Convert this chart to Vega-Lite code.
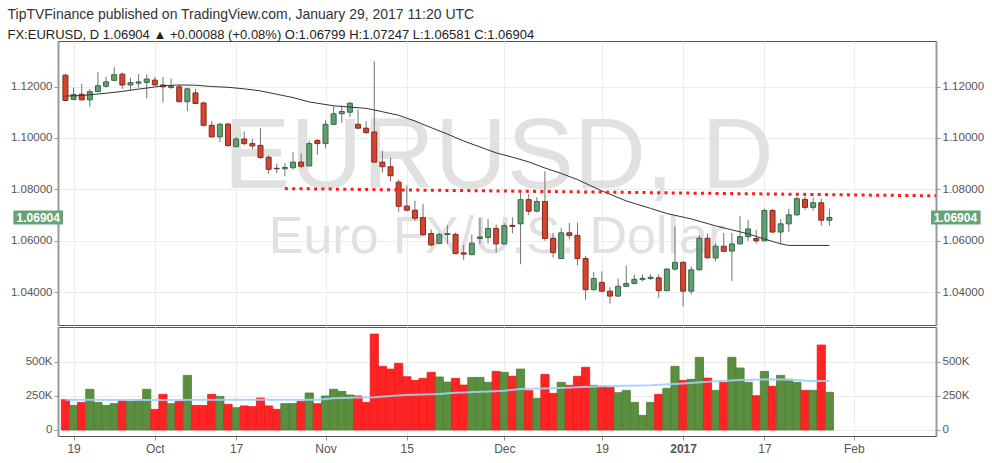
{
  "$schema": "https://vega.github.io/schema/vega-lite/v6.json",
  "background": "white",
  "padding": {"left": 7, "top": 7, "right": 7, "bottom": 4},
  "title": {
    "text": "TipTVFinance published on TradingView.com, January 29, 2017 11:20 UTC",
    "subtitle": "FX:EURUSD, D  1.06904 ▲ +0.00088 (+0.08%)  O:1.06799  H:1.07247  L:1.06581  C:1.06904",
    "anchor": "start",
    "frame": "bounds",
    "font": "Liberation Sans",
    "fontSize": 14,
    "fontWeight": "normal",
    "color": "#333333",
    "subtitleFont": "Liberation Sans",
    "subtitleFontSize": 13,
    "subtitleColor": "#222222",
    "subtitlePadding": 7,
    "offset": -1
  },
  "config": {
    "font": "Liberation Sans",
    "view": {"stroke": "#555555", "strokeWidth": 1},
    "axis": {
      "labelFont": "Liberation Sans",
      "labelFontSize": 11.5,
      "labelColor": "#555555",
      "gridColor": "#ececec",
      "tickColor": "#999999",
      "domainColor": "#999999",
      "domainWidth": 2,
      "tickSize": 4,
      "labelPadding": 2,
      "title": null
    }
  },
  "datasets": {
    "bars": [
      {"i":0,"d":"2016-09-16","o":1.1244,"h":1.1250,"l":1.1144,"c":1.1146,"v":222000},
      {"i":1,"d":"2016-09-19","o":1.1150,"h":1.1196,"l":1.1146,"c":1.1169,"v":180000},
      {"i":2,"d":"2016-09-20","o":1.1170,"h":1.1211,"l":1.1146,"c":1.1148,"v":202000},
      {"i":3,"d":"2016-09-21","o":1.1148,"h":1.1191,"l":1.1122,"c":1.1180,"v":298000},
      {"i":4,"d":"2016-09-22","o":1.1180,"h":1.1256,"l":1.1178,"c":1.1203,"v":202000},
      {"i":5,"d":"2016-09-23","o":1.1201,"h":1.1238,"l":1.1196,"c":1.1218,"v":180000},
      {"i":6,"d":"2016-09-26","o":1.1224,"h":1.1275,"l":1.1221,"c":1.1246,"v":193000},
      {"i":7,"d":"2016-09-27","o":1.1248,"h":1.1254,"l":1.1191,"c":1.1206,"v":217000},
      {"i":8,"d":"2016-09-28","o":1.1206,"h":1.1234,"l":1.1184,"c":1.1215,"v":210000},
      {"i":9,"d":"2016-09-29","o":1.1213,"h":1.1248,"l":1.1196,"c":1.1218,"v":222000},
      {"i":10,"d":"2016-09-30","o":1.1216,"h":1.1248,"l":1.1154,"c":1.1229,"v":298000},
      {"i":11,"d":"2016-10-03","o":1.1225,"h":1.1238,"l":1.1203,"c":1.1206,"v":151000},
      {"i":12,"d":"2016-10-04","o":1.1206,"h":1.1238,"l":1.1138,"c":1.1199,"v":261000},
      {"i":13,"d":"2016-10-05","o":1.1196,"h":1.1231,"l":1.1191,"c":1.1201,"v":193000},
      {"i":14,"d":"2016-10-06","o":1.1199,"h":1.1206,"l":1.1138,"c":1.1141,"v":210000},
      {"i":15,"d":"2016-10-07","o":1.1141,"h":1.1196,"l":1.1104,"c":1.1191,"v":400000},
      {"i":16,"d":"2016-10-10","o":1.1175,"h":1.1191,"l":1.1131,"c":1.1134,"v":180000},
      {"i":17,"d":"2016-10-11","o":1.1136,"h":1.1141,"l":1.1046,"c":1.1049,"v":180000},
      {"i":18,"d":"2016-10-12","o":1.1049,"h":1.1065,"l":1.1003,"c":1.1004,"v":261000},
      {"i":19,"d":"2016-10-13","o":1.1004,"h":1.1059,"l":1.0984,"c":1.1053,"v":246000},
      {"i":20,"d":"2016-10-14","o":1.1054,"h":1.1059,"l":1.0968,"c":1.0970,"v":188000},
      {"i":21,"d":"2016-10-17","o":1.0966,"h":1.1004,"l":1.0964,"c":1.0996,"v":163000},
      {"i":22,"d":"2016-10-18","o":1.0996,"h":1.1025,"l":1.0971,"c":1.0978,"v":176000},
      {"i":23,"d":"2016-10-19","o":1.0978,"h":1.0996,"l":1.0956,"c":1.0969,"v":171000},
      {"i":24,"d":"2016-10-20","o":1.0971,"h":1.1038,"l":1.0919,"c":1.0924,"v":234000},
      {"i":25,"d":"2016-10-21","o":1.0925,"h":1.0931,"l":1.0860,"c":1.0878,"v":176000},
      {"i":26,"d":"2016-10-24","o":1.0882,"h":1.0900,"l":1.0862,"c":1.0880,"v":151000},
      {"i":27,"d":"2016-10-25","o":1.0880,"h":1.0902,"l":1.0852,"c":1.0885,"v":193000},
      {"i":28,"d":"2016-10-26","o":1.0884,"h":1.0944,"l":1.0877,"c":1.0906,"v":193000},
      {"i":29,"d":"2016-10-27","o":1.0906,"h":1.0941,"l":1.0884,"c":1.0890,"v":210000},
      {"i":30,"d":"2016-10-28","o":1.0891,"h":1.0990,"l":1.0889,"c":1.0978,"v":271000},
      {"i":31,"d":"2016-10-31","o":1.0990,"h":1.0996,"l":1.0935,"c":1.0978,"v":193000},
      {"i":32,"d":"2016-11-01","o":1.0978,"h":1.1069,"l":1.0960,"c":1.1053,"v":249000},
      {"i":33,"d":"2016-11-02","o":1.1053,"h":1.1123,"l":1.1050,"c":1.1094,"v":298000},
      {"i":34,"d":"2016-11-03","o":1.1094,"h":1.1125,"l":1.1059,"c":1.1103,"v":283000},
      {"i":35,"d":"2016-11-04","o":1.1100,"h":1.1140,"l":1.1081,"c":1.1135,"v":256000},
      {"i":36,"d":"2016-11-07","o":1.1053,"h":1.1110,"l":1.1034,"c":1.1038,"v":249000},
      {"i":37,"d":"2016-11-08","o":1.1038,"h":1.1065,"l":1.1015,"c":1.1021,"v":202000},
      {"i":38,"d":"2016-11-09","o":1.1023,"h":1.1298,"l":1.0904,"c":1.0906,"v":702000},
      {"i":39,"d":"2016-11-10","o":1.0906,"h":1.0950,"l":1.0865,"c":1.0888,"v":466000},
      {"i":40,"d":"2016-11-11","o":1.0888,"h":1.0923,"l":1.0831,"c":1.0853,"v":446000},
      {"i":41,"d":"2016-11-14","o":1.0828,"h":1.0838,"l":1.0713,"c":1.0734,"v":488000},
      {"i":42,"d":"2016-11-15","o":1.0735,"h":1.0815,"l":1.0715,"c":1.0719,"v":390000},
      {"i":43,"d":"2016-11-16","o":1.0719,"h":1.0756,"l":1.0678,"c":1.0688,"v":363000},
      {"i":44,"d":"2016-11-17","o":1.0690,"h":1.0744,"l":1.0620,"c":1.0623,"v":378000},
      {"i":45,"d":"2016-11-18","o":1.0628,"h":1.0644,"l":1.0578,"c":1.0584,"v":422000},
      {"i":46,"d":"2016-11-21","o":1.0590,"h":1.0631,"l":1.0586,"c":1.0625,"v":388000},
      {"i":47,"d":"2016-11-22","o":1.0624,"h":1.0660,"l":1.0588,"c":1.0628,"v":351000},
      {"i":48,"d":"2016-11-23","o":1.0625,"h":1.0631,"l":1.0548,"c":1.0550,"v":378000},
      {"i":49,"d":"2016-11-24","o":1.0553,"h":1.0584,"l":1.0525,"c":1.0548,"v":329000},
      {"i":50,"d":"2016-11-25","o":1.0546,"h":1.0625,"l":1.0544,"c":1.0591,"v":385000},
      {"i":51,"d":"2016-11-28","o":1.0609,"h":1.0688,"l":1.0588,"c":1.0615,"v":385000},
      {"i":52,"d":"2016-11-29","o":1.0613,"h":1.0684,"l":1.0590,"c":1.0648,"v":349000},
      {"i":53,"d":"2016-11-30","o":1.0648,"h":1.0663,"l":1.0553,"c":1.0588,"v":429000},
      {"i":54,"d":"2016-12-01","o":1.0588,"h":1.0669,"l":1.0585,"c":1.0659,"v":422000},
      {"i":55,"d":"2016-12-02","o":1.0660,"h":1.0691,"l":1.0629,"c":1.0656,"v":393000},
      {"i":56,"d":"2016-12-05","o":1.0666,"h":1.0796,"l":1.0509,"c":1.0760,"v":446000},
      {"i":57,"d":"2016-12-06","o":1.0760,"h":1.0781,"l":1.0700,"c":1.0715,"v":288000},
      {"i":58,"d":"2016-12-07","o":1.0715,"h":1.0769,"l":1.0710,"c":1.0753,"v":232000},
      {"i":59,"d":"2016-12-08","o":1.0753,"h":1.0871,"l":1.0600,"c":1.0609,"v":407000},
      {"i":60,"d":"2016-12-09","o":1.0609,"h":1.0631,"l":1.0535,"c":1.0554,"v":268000},
      {"i":61,"d":"2016-12-12","o":1.0531,"h":1.0650,"l":1.0528,"c":1.0631,"v":349000},
      {"i":62,"d":"2016-12-13","o":1.0631,"h":1.0669,"l":1.0606,"c":1.0621,"v":327000},
      {"i":63,"d":"2016-12-14","o":1.0621,"h":1.0671,"l":1.0504,"c":1.0531,"v":393000},
      {"i":64,"d":"2016-12-15","o":1.0531,"h":1.0541,"l":1.0371,"c":1.0410,"v":459000},
      {"i":65,"d":"2016-12-16","o":1.0410,"h":1.0478,"l":1.0406,"c":1.0453,"v":327000},
      {"i":66,"d":"2016-12-19","o":1.0438,"h":1.0481,"l":1.0400,"c":1.0404,"v":320000},
      {"i":67,"d":"2016-12-20","o":1.0404,"h":1.0419,"l":1.0356,"c":1.0385,"v":312000},
      {"i":68,"d":"2016-12-21","o":1.0385,"h":1.0453,"l":1.0381,"c":1.0423,"v":273000},
      {"i":69,"d":"2016-12-22","o":1.0423,"h":1.0504,"l":1.0420,"c":1.0434,"v":290000},
      {"i":70,"d":"2016-12-23","o":1.0434,"h":1.0469,"l":1.0430,"c":1.0450,"v":202000},
      {"i":71,"d":"2016-12-26","o":1.0449,"h":1.0469,"l":1.0442,"c":1.0454,"v":107000},
      {"i":72,"d":"2016-12-27","o":1.0453,"h":1.0469,"l":1.0447,"c":1.0458,"v":202000},
      {"i":73,"d":"2016-12-28","o":1.0456,"h":1.0469,"l":1.0378,"c":1.0406,"v":261000},
      {"i":74,"d":"2016-12-29","o":1.0406,"h":1.0494,"l":1.0403,"c":1.0490,"v":305000},
      {"i":75,"d":"2016-12-30","o":1.0490,"h":1.0656,"l":1.0484,"c":1.0516,"v":466000},
      {"i":76,"d":"2017-01-03","o":1.0516,"h":1.0520,"l":1.0344,"c":1.0404,"v":363000},
      {"i":77,"d":"2017-01-04","o":1.0404,"h":1.0500,"l":1.0391,"c":1.0487,"v":371000},
      {"i":78,"d":"2017-01-05","o":1.0487,"h":1.0622,"l":1.0485,"c":1.0610,"v":532000},
      {"i":79,"d":"2017-01-06","o":1.0610,"h":1.0628,"l":1.0530,"c":1.0534,"v":380000},
      {"i":80,"d":"2017-01-09","o":1.0533,"h":1.0590,"l":1.0519,"c":1.0579,"v":290000},
      {"i":81,"d":"2017-01-10","o":1.0579,"h":1.0631,"l":1.0557,"c":1.0559,"v":349000},
      {"i":82,"d":"2017-01-11","o":1.0560,"h":1.0631,"l":1.0444,"c":1.0588,"v":532000},
      {"i":83,"d":"2017-01-12","o":1.0588,"h":1.0697,"l":1.0585,"c":1.0616,"v":454000},
      {"i":84,"d":"2017-01-13","o":1.0616,"h":1.0681,"l":1.0600,"c":1.0646,"v":349000},
      {"i":85,"d":"2017-01-16","o":1.0609,"h":1.0643,"l":1.0589,"c":1.0600,"v":251000},
      {"i":86,"d":"2017-01-17","o":1.0600,"h":1.0726,"l":1.0598,"c":1.0718,"v":429000},
      {"i":87,"d":"2017-01-18","o":1.0718,"h":1.0724,"l":1.0632,"c":1.0634,"v":320000},
      {"i":88,"d":"2017-01-19","o":1.0634,"h":1.0684,"l":1.0588,"c":1.0666,"v":400000},
      {"i":89,"d":"2017-01-20","o":1.0666,"h":1.0724,"l":1.0634,"c":1.0701,"v":371000},
      {"i":90,"d":"2017-01-23","o":1.0701,"h":1.0772,"l":1.0698,"c":1.0764,"v":349000},
      {"i":91,"d":"2017-01-24","o":1.0761,"h":1.0772,"l":1.0721,"c":1.0730,"v":290000},
      {"i":92,"d":"2017-01-25","o":1.0730,"h":1.0768,"l":1.0717,"c":1.0748,"v":290000},
      {"i":93,"d":"2017-01-26","o":1.0748,"h":1.0764,"l":1.0659,"c":1.0680,"v":622000},
      {"i":94,"d":"2017-01-27","o":1.06799,"h":1.07247,"l":1.06581,"c":1.06904,"v":276000}
    ],
    "ma": [
      {"i":0,"p":1.1163},{"i":2,"p":1.1165},{"i":3,"p":1.1168},{"i":5,"p":1.1174},{"i":7,"p":1.1181},
      {"i":9,"p":1.1190},{"i":11,"p":1.1198},{"i":12,"p":1.1203},{"i":14,"p":1.1206},{"i":16,"p":1.1205},
      {"i":18,"p":1.1200},{"i":20,"p":1.1197},{"i":22,"p":1.1191},{"i":24,"p":1.1183},{"i":26,"p":1.1170},
      {"i":28,"p":1.1157},{"i":30,"p":1.1140},{"i":33,"p":1.1125},{"i":35,"p":1.1120},{"i":37,"p":1.1115},
      {"i":39,"p":1.1102},{"i":41,"p":1.1088},{"i":43,"p":1.1066},{"i":45,"p":1.1040},{"i":47,"p":1.1015},
      {"i":49,"p":1.0988},{"i":51,"p":1.0965},{"i":53,"p":1.0942},{"i":55,"p":1.0925},{"i":57,"p":1.0907},
      {"i":59,"p":1.0883},{"i":61,"p":1.0862},{"i":63,"p":1.0838},{"i":66,"p":1.0794},{"i":69,"p":1.0755},
      {"i":72,"p":1.0726},{"i":74,"p":1.0706},{"i":77,"p":1.0685},{"i":80,"p":1.0658},{"i":84,"p":1.0627},
      {"i":86,"p":1.0607},{"i":88,"p":1.0588},{"i":89,"p":1.0582},{"i":94,"p":1.0582}
    ],
    "vma": [
      {"i":0,"v":222000},{"i":10,"v":220000},{"i":20,"v":222000},{"i":31,"v":222000},{"i":33,"v":232000},
      {"i":36,"v":237000},{"i":38,"v":240000},{"i":40,"v":248000},{"i":42,"v":256000},{"i":46,"v":264000},
      {"i":48,"v":272000},{"i":52,"v":282000},{"i":54,"v":288000},{"i":56,"v":300000},{"i":60,"v":305000},
      {"i":66,"v":320000},{"i":72,"v":327000},{"i":76,"v":341000},{"i":80,"v":356000},{"i":83,"v":366000},
      {"i":87,"v":371000},{"i":90,"v":366000},{"i":92,"v":356000},{"i":94,"v":361000}
    ],
    "level": [
      {"i":27,"p":1.0803},
      {"i":108,"p":1.07745}
    ],
    "marks": [
      {"label":"EURUSD, D","i":53.3,"p":1.0806,"size":100},
      {"label":"Euro FX/U.S. Dollar","i":53.1,"p":1.0551,"size":52}
    ]
  },
  "spacing": 0,
  "vconcat": [
    {
      "width": 878,
      "height": 284,
      "layer": [
        {
          "data": {"name": "marks"},
          "mark": {"type": "text", "color": "#e1e1e1", "align": "center", "baseline": "alphabetic", "font": "Liberation Sans", "clip": true},
          "encoding": {
            "x": {"field": "i", "type": "quantitative", "scale": {"domain": [-0.3, 106.5], "nice": false, "zero": false},
              "axis": {"values": [1, 11, 21, 32, 42, 54, 66, 76, 86, 97], "labels": false, "ticks": false, "domain": false, "grid": true}},
            "y": {"field": "p", "type": "quantitative", "scale": {"domain": [1.02919, 1.13576], "nice": false, "zero": false},
              "axis": {"orient": "left", "values": [1.04, 1.06, 1.08, 1.10, 1.12], "format": ".5f", "grid": true, "minExtent": 50, "maxExtent": 50}},
            "text": {"field": "label"},
            "size": {"field": "size", "type": "quantitative", "scale": null}
          }
        },
        {
          "data": {"name": "bars"},
          "mark": {"type": "rule", "color": "#737373", "strokeWidth": 1, "clip": true},
          "encoding": {
            "x": {"field": "i", "type": "quantitative"},
            "y": {"field": "l", "type": "quantitative", "axis": {"orient": "right", "values": [1.04, 1.06, 1.08, 1.10, 1.12], "format": ".5f", "grid": false, "minExtent": 50, "maxExtent": 50}},
            "y2": {"field": "h"}
          }
        },
        {
          "data": {"name": "bars"},
          "mark": {"type": "bar", "size": 5, "strokeWidth": 1, "clip": true},
          "encoding": {
            "x": {"field": "i", "type": "quantitative"},
            "y": {"field": "o", "type": "quantitative", "axis": null},
            "y2": {"field": "c"},
            "fill": {"condition": {"test": "datum.c < datum.o", "value": "#d4452f"}, "value": "#5f9f72"},
            "stroke": {"condition": {"test": "datum.c < datum.o", "value": "#86281b"}, "value": "#376849"},
            "tooltip": [
              {"field": "d", "title": "Date"},
              {"field": "o", "title": "O", "format": ".5f"},
              {"field": "h", "title": "H", "format": ".5f"},
              {"field": "l", "title": "L", "format": ".5f"},
              {"field": "c", "title": "C", "format": ".5f"}
            ]
          }
        },
        {
          "data": {"name": "ma"},
          "mark": {"type": "line", "color": "#333333", "strokeWidth": 1, "clip": true},
          "encoding": {
            "x": {"field": "i", "type": "quantitative"},
            "y": {"field": "p", "type": "quantitative", "axis": null}
          }
        },
        {
          "data": {"name": "level"},
          "mark": {"type": "line", "color": "#ff1a1a", "strokeWidth": 3, "strokeDash": [3, 4.3], "clip": true},
          "encoding": {
            "x": {"field": "i", "type": "quantitative"},
            "y": {"field": "p", "type": "quantitative", "axis": null}
          }
        },
        {
          "data": {"name": "bars"},
          "transform": [{"filter": "datum.i == 94"}],
          "mark": {"type": "bar", "size": 14, "color": "#66a478"},
          "encoding": {
            "x": {"datum": 106.5, "type": "quantitative"},
            "x2": {"datum": 112.6},
            "y": {"field": "c", "type": "quantitative", "axis": null}
          }
        },
        {
          "data": {"name": "bars"},
          "transform": [{"filter": "datum.i == 94"}],
          "mark": {"type": "bar", "size": 14, "color": "#66a478"},
          "encoding": {
            "x": {"datum": -6.4, "type": "quantitative"},
            "x2": {"datum": -0.3},
            "y": {"field": "c", "type": "quantitative", "axis": null}
          }
        },
        {
          "data": {"name": "bars"},
          "transform": [{"filter": "datum.i == 94"}],
          "mark": {"type": "text", "color": "white", "fontWeight": "bold", "fontSize": 12, "align": "center", "baseline": "middle"},
          "encoding": {
            "x": {"datum": 109.5, "type": "quantitative"},
            "y": {"field": "c", "type": "quantitative", "axis": null},
            "text": {"field": "c", "format": ".5f"}
          }
        },
        {
          "data": {"name": "bars"},
          "transform": [{"filter": "datum.i == 94"}],
          "mark": {"type": "text", "color": "white", "fontWeight": "bold", "fontSize": 12, "align": "center", "baseline": "middle"},
          "encoding": {
            "x": {"datum": -3.35, "type": "quantitative"},
            "y": {"field": "c", "type": "quantitative", "axis": null},
            "text": {"field": "c", "format": ".5f"}
          }
        }
      ],
      "resolve": {"axis": {"y": "independent"}}
    },
    {
      "width": 878,
      "height": 109,
      "layer": [
        {
          "data": {"name": "bars"},
          "mark": {"type": "bar", "size": 8.2, "strokeWidth": 0.8, "clip": true},
          "encoding": {
            "x": {"field": "i", "type": "quantitative", "scale": {"domain": [-0.3, 106.5], "nice": false, "zero": false},
              "axis": {
                "values": [1, 11, 21, 32, 42, 54, 66, 76, 86, 97],
                "labelExpr": "datum.value == 1 ? '19' : datum.value == 11 ? 'Oct' : datum.value == 21 ? '17' : datum.value == 32 ? 'Nov' : datum.value == 42 ? '15' : datum.value == 54 ? 'Dec' : datum.value == 66 ? '19' : datum.value == 76 ? '2017' : datum.value == 86 ? '17' : 'Feb'",
                "labelFontWeight": {"condition": {"test": "datum.value == 76", "value": "bold"}, "value": "normal"},
                "labelFontSize": 12,
                "labelPadding": 3,
                "grid": true,
                "domainColor": "#555555",
                "domainWidth": 1
              }},
            "y": {"field": "v", "type": "quantitative", "scale": {"domain": [-44000, 754000], "nice": false, "zero": false},
              "axis": {"orient": "left", "values": [0, 250000, 500000], "labelExpr": "datum.value == 0 ? '0' : (datum.value / 1000) + 'K'", "grid": true, "minExtent": 50, "maxExtent": 50}},
            "fill": {"condition": {"test": "datum.c < datum.o", "value": "#ff2323"}, "value": "#5b8f3f"},
            "stroke": {"condition": {"test": "datum.c < datum.o", "value": "#e61e1e"}, "value": "#4e7f35"}
          }
        },
        {
          "data": {"name": "vma"},
          "mark": {"type": "line", "color": "#9fd2f6", "strokeWidth": 2, "opacity": 0.9, "clip": true},
          "encoding": {
            "x": {"field": "i", "type": "quantitative"},
            "y": {"field": "v", "type": "quantitative",
              "axis": {"orient": "right", "values": [0, 250000, 500000], "labelExpr": "datum.value == 0 ? '0' : (datum.value / 1000) + 'K'", "grid": false, "minExtent": 50, "maxExtent": 50}}
          }
        }
      ],
      "resolve": {"axis": {"y": "independent"}}
    }
  ]
}
